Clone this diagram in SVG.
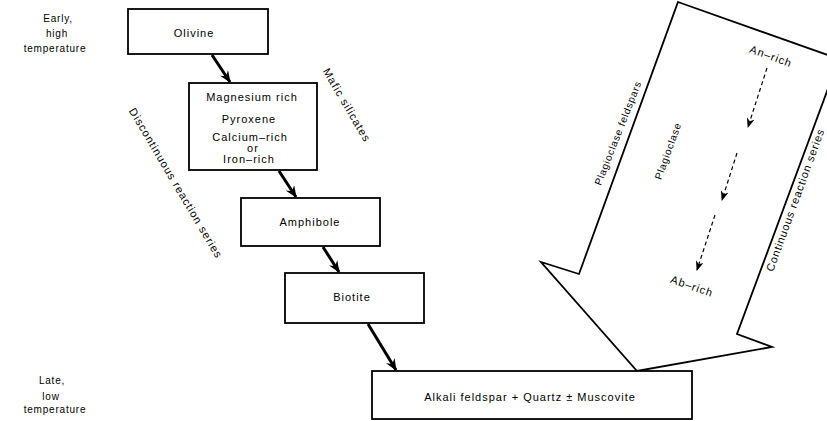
<svg xmlns="http://www.w3.org/2000/svg" width="827" height="421" viewBox="0 0 827 421">
<defs>
<style>
text{font-family:"Liberation Sans",Arial,sans-serif;font-size:11px;letter-spacing:1px;fill:#000;text-anchor:middle;dominant-baseline:central}
.sm{font-size:10px;letter-spacing:0.8px}
.rot{letter-spacing:0.8px}
.box{fill:#fff;stroke:#000;stroke-width:1.8}
.conn{stroke:#000;stroke-width:3;fill:none}
.dash{stroke:#000;stroke-width:1.2;fill:none;stroke-dasharray:4 3}
.big{fill:#fff;stroke:#000;stroke-width:1.8;stroke-linejoin:miter}
</style>
<marker id="ah" viewBox="0 0 12 10" refX="11" refY="5" markerWidth="12" markerHeight="10" markerUnits="userSpaceOnUse" orient="auto">
<path d="M0,0 L12,5 L0,10 L4,5 z" fill="#000"/>
</marker>
<marker id="dh" viewBox="0 0 10 8" refX="9" refY="4" markerWidth="10" markerHeight="8" markerUnits="userSpaceOnUse" orient="auto">
<path d="M0,0 L10,4 L0,8 L3,4 z" fill="#000"/>
</marker>
</defs>
<rect width="827" height="421" fill="#fff"/>

<g id="labels-left">
<text class="sm" x="58" y="18">Early,</text>
<text class="sm" x="57" y="33">high</text>
<text class="sm" x="55" y="48">temperature</text>
<text class="sm" x="52" y="380">Late,</text>
<text class="sm" x="51" y="396">low</text>
<text class="sm" x="55" y="409">temperature</text>
</g>

<g id="big-arrow">
<polygon class="big" points="678,2 839,59 737,334 772,347 637,371 541,262 579,274"/>
<text class="sm" transform="translate(618,133) rotate(-68.5)">Plagioclase feldspars</text>
<text class="sm" transform="translate(668,151) rotate(-70)">Plagioclase</text>
<text class="rot" transform="translate(795,200) rotate(-70)">Continuous reaction series</text>
<text transform="translate(771,56) rotate(20)">An–rich</text>
<text transform="translate(692,286) rotate(19)">Ab–rich</text>
</g>

<g id="connectors">
<line class="conn" x1="212" y1="55" x2="230" y2="82" marker-end="url(#ah)"/>
<line class="conn" x1="279" y1="171" x2="296" y2="197" marker-end="url(#ah)"/>
<line class="conn" x1="323" y1="247" x2="339" y2="272" marker-end="url(#ah)"/>
<line class="conn" x1="368" y1="324" x2="396" y2="370" marker-end="url(#ah)"/>
<line class="dash" x1="767" y1="68" x2="748" y2="127" marker-end="url(#dh)"/>
<line class="dash" x1="737" y1="153" x2="722" y2="200" marker-end="url(#dh)"/>
<line class="dash" x1="715" y1="215" x2="697" y2="270" marker-end="url(#dh)"/>
</g>

<g id="olivine">
<rect class="box" x="128" y="9" width="140" height="45"/>
<text x="194" y="33">Olivine</text>
</g>

<g id="pyroxene">
<rect class="box" x="189" y="83" width="128" height="87"/>
<text x="252" y="97">Magnesium rich</text>
<text x="249" y="119">Pyroxene</text>
<text x="250" y="137">Calcium–rich</text>
<text x="253" y="148">or</text>
<text x="249" y="159">Iron–rich</text>
</g>

<g id="amphibole">
<rect class="box" x="241" y="198" width="139" height="48"/>
<text x="310" y="222">Amphibole</text>
</g>

<g id="biotite">
<rect class="box" x="285" y="273" width="139" height="50"/>
<text x="352" y="297">Biotite</text>
</g>

<g id="alkali">
<rect class="box" x="372" y="371" width="320" height="48"/>
<text x="530" y="397">Alkali feldspar + Quartz ± Muscovite</text>
</g>

<g id="labels-series">
<text transform="translate(176,183) rotate(59.4)">Discontinuous reaction series</text>
<text transform="translate(347,105) rotate(59.6)">Mafic silicates</text>
</g>
</svg>
